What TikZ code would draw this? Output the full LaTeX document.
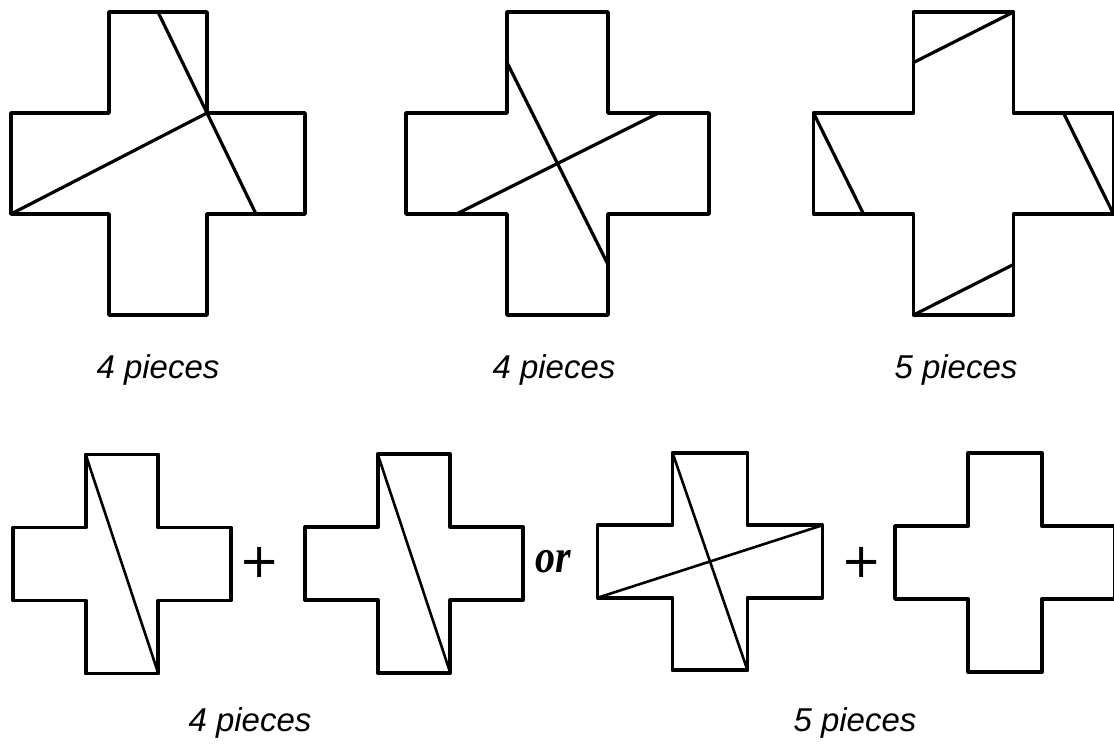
\documentclass[tikz,border=0pt]{standalone}
\usepackage{fontspec}
\newfontfamily\labelfont{Liberation Sans}
\newfontfamily\plusfont{DejaVu Sans}
\newfontfamily\orfont{Liberation Serif}
\tikzset{
  outline/.style={line width=3.8pt, line join=round, line cap=round},
  cut/.style={line width=3.2pt, line cap=round},
  thincut/.style={line width=2.6pt, line cap=round},
  lbl/.style={font=\labelfont\itshape\fontsize{33}{36}\selectfont, anchor=base, inner sep=0pt},
  plussign/.style={font=\plusfont\fontsize{48}{52}\selectfont, inner sep=0pt, anchor=center},
  orword/.style={font=\orfont\bfseries\itshape\fontsize{47}{50}\selectfont, anchor=base west, inner sep=0pt},
  pics/gcross/.style={code={
    \draw[outline] (-0.5,1.5) -- (0.5,1.5) -- (0.5,0.5) -- (1.5,0.5) -- (1.5,-0.5) -- (0.5,-0.5)
      -- (0.5,-1.5) -- (-0.5,-1.5) -- (-0.5,-0.5) -- (-1.5,-0.5) -- (-1.5,0.5) -- (-0.5,0.5) -- cycle;
  }}
}
\begin{document}
\begin{tikzpicture}[x=1pt, y=-1pt]
\fill[white] (0,0) rectangle (1114,745);
\useasboundingbox (0,0) rectangle (1114,745);

% ---- top row ----
\begin{scope}[shift={(158,163.5)}, x=98pt, y=101pt]
  \pic {gcross};
  \draw[cut] (0,1.5) -- (1,-0.5);
  \draw[cut] (-1.5,-0.5) -- (0.5,0.5);
\end{scope}
\begin{scope}[shift={(557.5,163.5)}, x=101pt, y=101pt]
  \pic {gcross};
  \draw[cut] (-0.5,1) -- (0.5,-1);
  \draw[cut] (-1,-0.5) -- (1,0.5);
\end{scope}
\begin{scope}[shift={(963.5,163.5)}, x=100pt, y=101pt]
  \pic {gcross};
  \draw[cut] (-0.5,1) -- (0.5,1.5);
  \draw[cut] (-0.5,-1.5) -- (0.5,-1);
  \draw[cut] (-1.5,0.5) -- (-1,-0.5);
  \draw[cut] (1,0.5) -- (1.5,-0.5);
\end{scope}

\node[lbl] (l1) at (158,378) {4 pieces};
\node[lbl] (l2) at (554,378) {4 pieces};
\node[lbl] (l3) at (956,378) {5 pieces};

% ---- bottom row ----
\begin{scope}[shift={(122,564)}, x=72.7pt, y=73pt]
  \pic {gcross};
  \draw[thincut] (-0.5,1.5) -- (0.5,-1.5);
\end{scope}
\begin{scope}[shift={(414,563.5)}, x=72.7pt, y=73pt]
  \pic {gcross};
  \draw[thincut] (-0.5,1.5) -- (0.5,-1.5);
\end{scope}
\begin{scope}[shift={(710,561.5)}, x=75pt, y=72.5pt]
  \pic {gcross};
  \draw[thincut] (-0.5,1.5) -- (0.5,-1.5);
  \draw[thincut] (-1.5,-0.5) -- (1.5,0.5);
\end{scope}
\begin{scope}[shift={(1005,562.5)}, x=73.3pt, y=73pt]
  \pic {gcross};
\end{scope}

\node[plussign] (p1) at (260,562) {+};
\node[orword] (or) at (535,572) {\scalebox{0.85}[1]{or}};
\node[plussign] (p2) at (862,562) {+};

\node[lbl] (l4) at (250,731) {4 pieces};
\node[lbl] (l5) at (855,731) {5 pieces};
\end{tikzpicture}
\end{document}
